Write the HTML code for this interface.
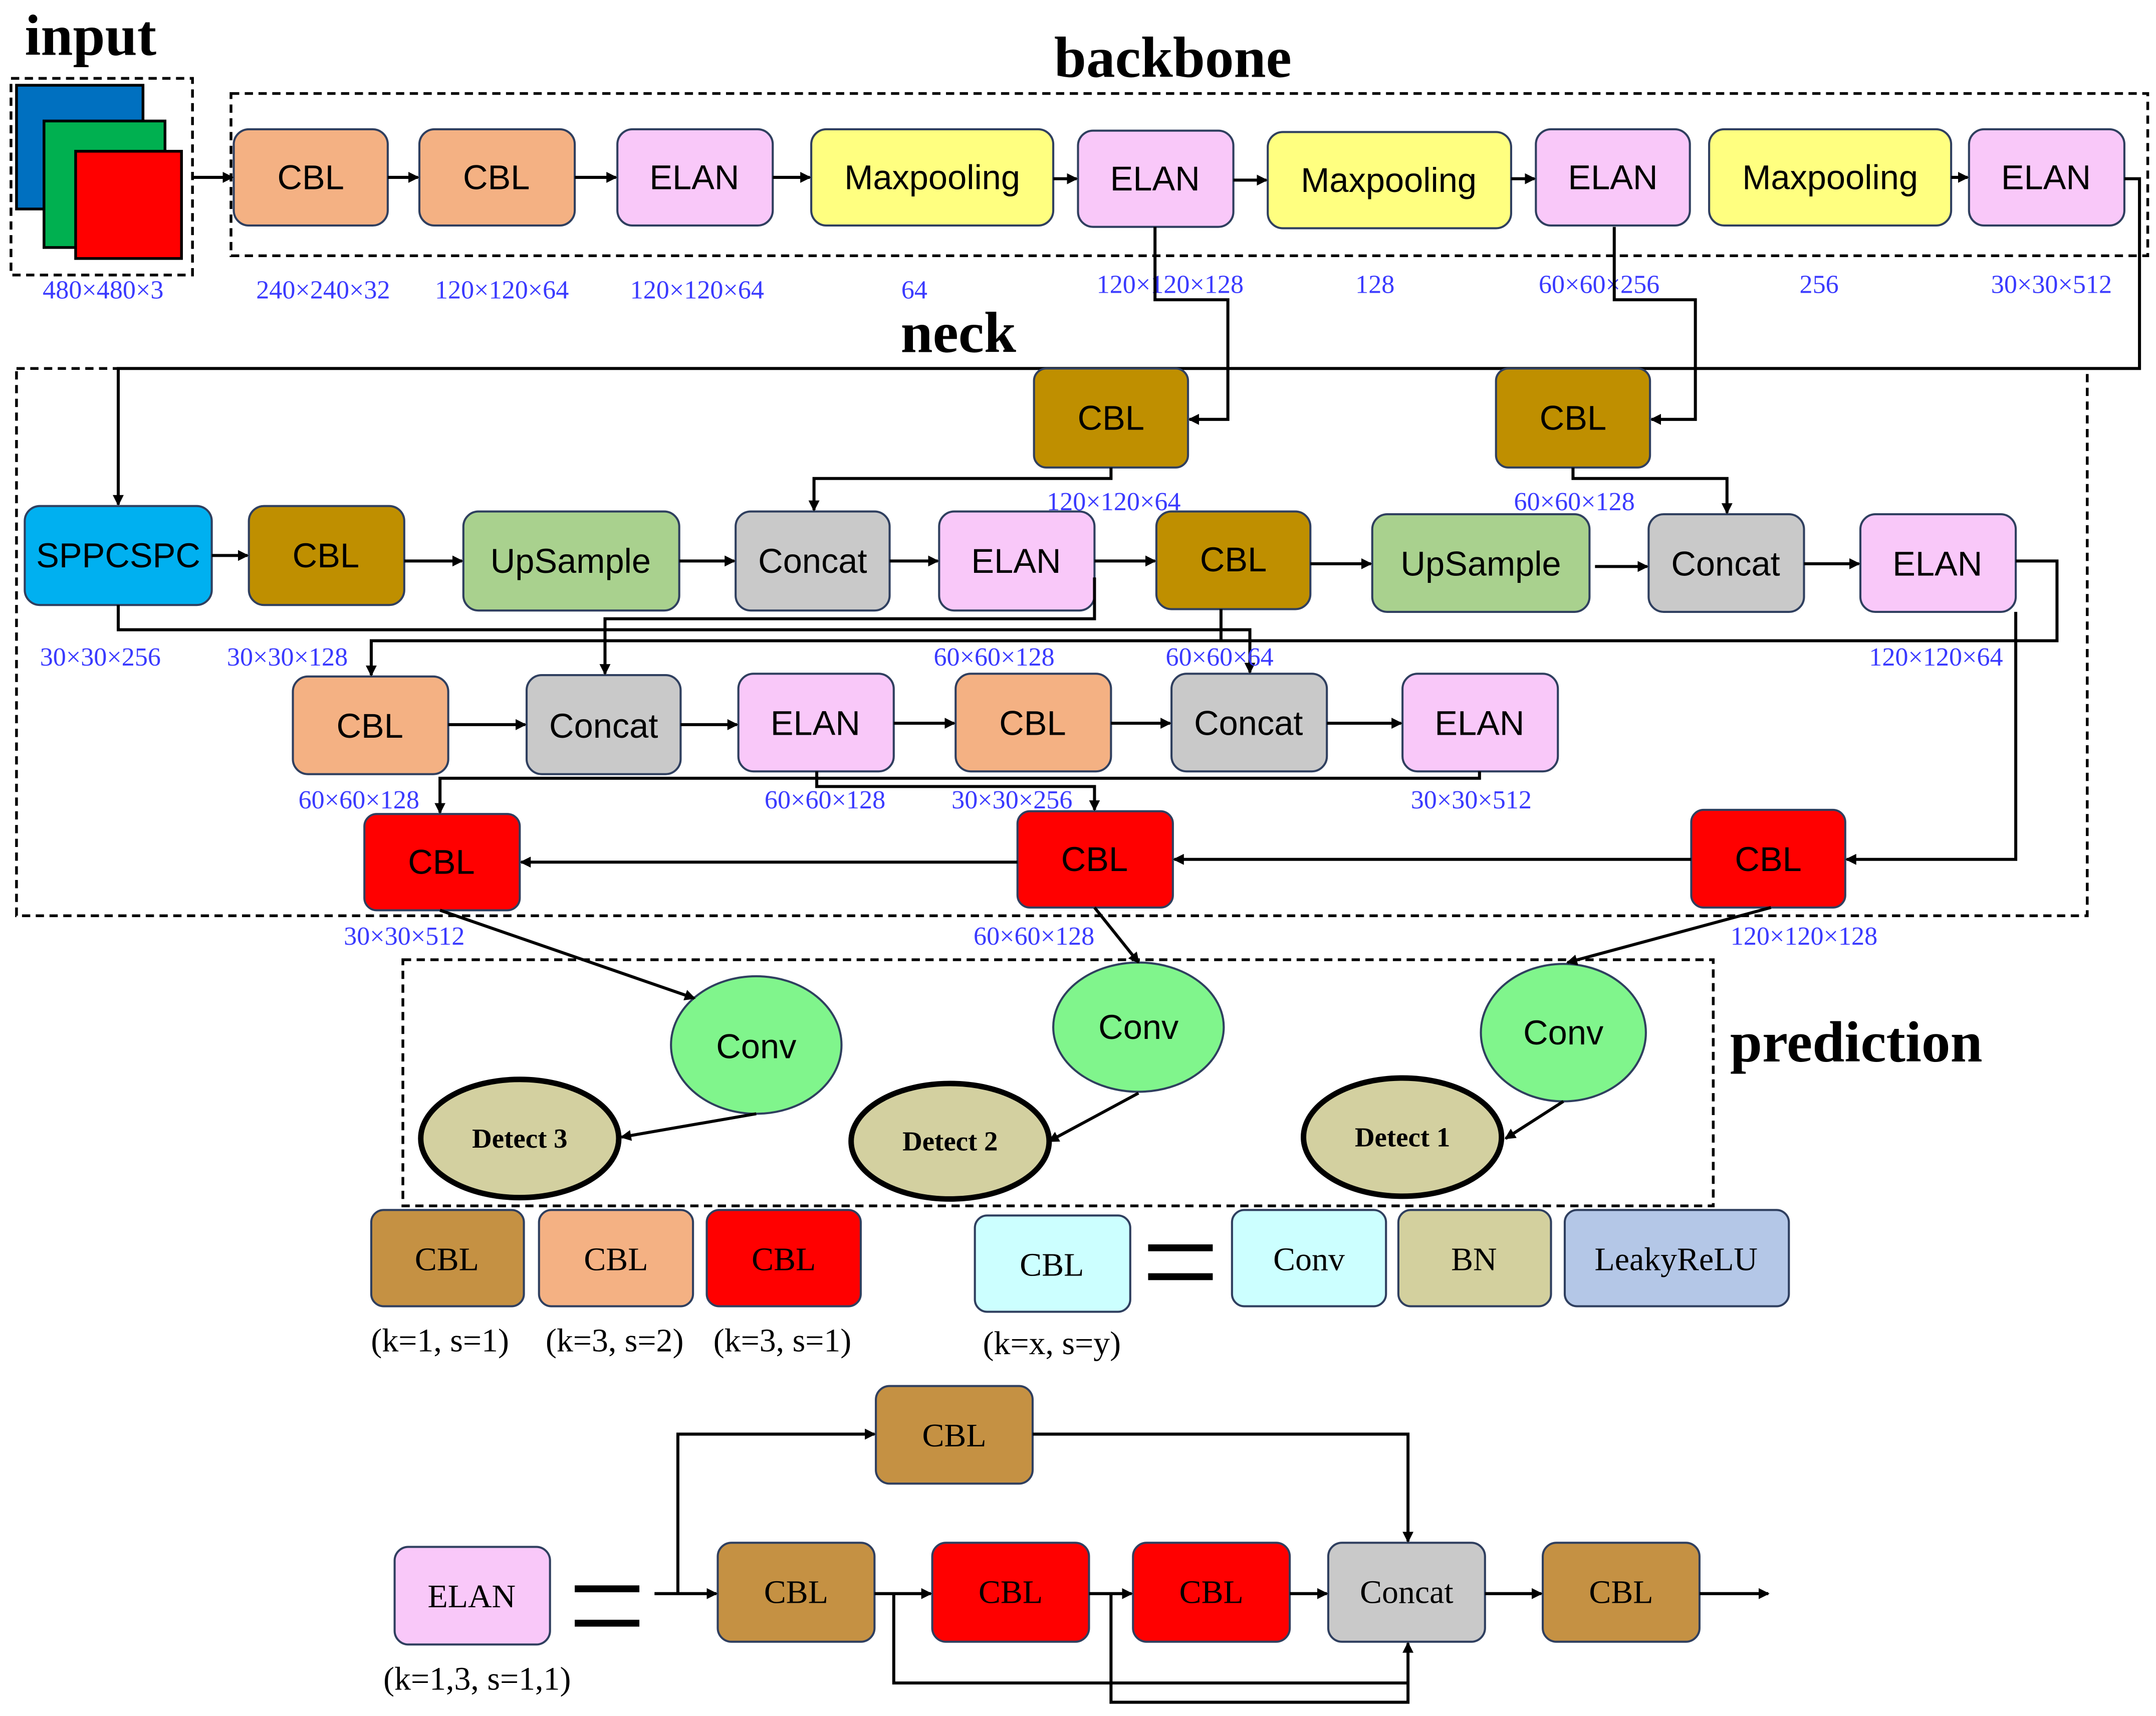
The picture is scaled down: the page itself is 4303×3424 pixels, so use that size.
<!DOCTYPE html>
<html><head><meta charset="utf-8"><style>
html,body{margin:0;padding:0;background:#fff}
svg{display:block}
.n{font-family:"Liberation Sans",sans-serif;font-size:25px;text-anchor:middle;dominant-baseline:central;fill:#000}
.s{font-family:"Liberation Serif",serif;font-size:24px;text-anchor:middle;dominant-baseline:central;fill:#000}
.l{font-family:"Liberation Serif",serif;font-size:19px;text-anchor:middle;fill:#3a3aff}
.t{font-family:"Liberation Serif",serif;font-weight:bold;font-size:42px;fill:#000}
.b rect,rect.b{stroke:#2f3f5f;stroke-width:1.5}
.w{fill:none;stroke:#000;stroke-width:2.2}
.d{fill:none;stroke:#000;stroke-width:2;stroke-dasharray:6,4}
</style></head><body>
<svg width="4303" height="3424" viewBox="0 0 1568 1248" preserveAspectRatio="none" xmlns="http://www.w3.org/2000/svg">
<defs><marker id="a" markerWidth="8" markerHeight="8" refX="7" refY="4" orient="auto" markerUnits="userSpaceOnUse"><path d="M0,0 L8,4 L0,8 z" fill="#000"/></marker>
<marker id="A" markerWidth="12" markerHeight="12" refX="11" refY="6" orient="auto" markerUnits="userSpaceOnUse"><path d="M0,1 L12,6 L0,11 z" fill="#000"/></marker></defs>

<!-- titles -->
<text class="t" x="18" y="40">input</text>
<text class="t" x="853" y="56" text-anchor="middle">backbone</text>
<text class="t" x="697" y="256" text-anchor="middle">neck</text>
<text class="t" x="1350" y="772" text-anchor="middle">prediction</text>

<!-- input -->
<rect class="d" x="8" y="57" width="132" height="143"/>
<rect x="12" y="62" width="92" height="90" fill="#0070c0" stroke="#000" stroke-width="2"/>
<rect x="32" y="88" width="88" height="92" fill="#00b050" stroke="#000" stroke-width="2"/>
<rect x="55" y="110" width="77" height="78" fill="#ff0000" stroke="#000" stroke-width="2"/>

<!-- backbone -->
<rect class="d" x="168" y="68" width="1394" height="118"/>
<g class="b">
<rect x="170" y="94" width="112" height="70" rx="11" fill="#f4b183"/>
<rect x="305" y="94" width="113" height="70" rx="11" fill="#f4b183"/>
<rect x="449" y="94" width="113" height="70" rx="11" fill="#f9c8f9"/>
<rect x="590" y="94" width="176" height="70" rx="11" fill="#ffff80"/>
<rect x="784" y="95" width="113" height="70" rx="11" fill="#f9c8f9"/>
<rect x="922" y="96" width="177" height="70" rx="11" fill="#ffff80"/>
<rect x="1117" y="94" width="112" height="70" rx="11" fill="#f9c8f9"/>
<rect x="1243" y="94" width="176" height="70" rx="11" fill="#ffff80"/>
<rect x="1432" y="94" width="113" height="70" rx="11" fill="#f9c8f9"/>
</g>
<text class="n" x="226" y="129">CBL</text><text class="n" x="361" y="129">CBL</text>
<text class="n" x="505" y="129">ELAN</text><text class="n" x="678" y="129">Maxpooling</text>
<text class="n" x="840" y="130">ELAN</text><text class="n" x="1010" y="131">Maxpooling</text>
<text class="n" x="1173" y="129">ELAN</text><text class="n" x="1331" y="129">Maxpooling</text>
<text class="n" x="1488" y="129">ELAN</text>
<g class="w" marker-end="url(#a)">
<path d="M140,129 H169"/><path d="M282,129 H304"/><path d="M418,129 H448"/><path d="M562,129 H589"/>
<path d="M766,130 H783"/><path d="M897,131 H921"/><path d="M1099,130 H1116"/><path d="M1419,129 H1431"/>
</g>
<g class="l">
<text x="75" y="217">480×480×3</text><text x="235" y="217">240×240×32</text><text x="365" y="217">120×120×64</text>
<text x="507" y="217">120×120×64</text><text x="665" y="217">64</text><text x="851" y="213">120×120×128</text>
<text x="1000" y="213">128</text><text x="1163" y="213">60×60×256</text><text x="1323" y="213">256</text><text x="1492" y="213">30×30×512</text>
</g>

<!-- neck -->
<rect class="d" x="12" y="268" width="1506" height="398"/>
<path class="w" d="M1545,130 H1556 V268 H86 V367" marker-end="url(#a)"/>
<path class="w" d="M840,165 V218 H893 V305 H865" marker-end="url(#a)"/>
<path class="w" d="M1174,165 V218 H1233 V305 H1201" marker-end="url(#a)"/>
<g class="b">
<rect x="752" y="268" width="112" height="72" rx="9" fill="#bf8f00"/>
<rect x="1088" y="268" width="112" height="72" rx="9" fill="#bf8f00"/>
<rect x="18" y="368" width="136" height="72" rx="11" fill="#00b0f0"/>
<rect x="181" y="368" width="113" height="72" rx="11" fill="#bf8f00"/>
<rect x="337" y="372" width="157" height="72" rx="11" fill="#a9d18e"/>
<rect x="535" y="372" width="112" height="72" rx="11" fill="#c9c9c9"/>
<rect x="683" y="372" width="113" height="72" rx="11" fill="#f9c8f9"/>
<rect x="841" y="372" width="112" height="71" rx="11" fill="#bf8f00"/>
<rect x="998" y="374" width="158" height="71" rx="11" fill="#a9d18e"/>
<rect x="1199" y="374" width="113" height="71" rx="11" fill="#c9c9c9"/>
<rect x="1353" y="374" width="113" height="71" rx="11" fill="#f9c8f9"/>
<rect x="213" y="492" width="113" height="71" rx="11" fill="#f4b183"/>
<rect x="383" y="491" width="112" height="72" rx="11" fill="#c9c9c9"/>
<rect x="537" y="490" width="113" height="71" rx="11" fill="#f9c8f9"/>
<rect x="695" y="490" width="113" height="71" rx="11" fill="#f4b183"/>
<rect x="852" y="490" width="113" height="71" rx="11" fill="#c9c9c9"/>
<rect x="1020" y="490" width="113" height="71" rx="11" fill="#f9c8f9"/>
<rect x="265" y="592" width="113" height="70" rx="9" fill="#ff0000"/>
<rect x="740" y="590" width="113" height="70" rx="9" fill="#ff0000"/>
<rect x="1230" y="589" width="112" height="71" rx="9" fill="#ff0000"/>
</g>
<text class="n" x="808" y="304">CBL</text><text class="n" x="1144" y="304">CBL</text>
<text class="n" x="86" y="404">SPPCSPC</text><text class="n" x="237" y="404">CBL</text>
<text class="n" x="415" y="408">UpSample</text><text class="n" x="591" y="408">Concat</text>
<text class="n" x="739" y="408">ELAN</text><text class="n" x="897" y="407">CBL</text>
<text class="n" x="1077" y="410">UpSample</text><text class="n" x="1255" y="410">Concat</text>
<text class="n" x="1409" y="410">ELAN</text>
<text class="n" x="269" y="528">CBL</text><text class="n" x="439" y="528">Concat</text>
<text class="n" x="593" y="526">ELAN</text><text class="n" x="751" y="526">CBL</text>
<text class="n" x="908" y="526">Concat</text><text class="n" x="1076" y="526">ELAN</text>
<text class="n" x="321" y="627">CBL</text><text class="n" x="796" y="625">CBL</text><text class="n" x="1286" y="625">CBL</text>
<g class="w" marker-end="url(#a)">
<path d="M808,340 V348 H592 V371"/><path d="M1144,340 V348 H1256 V373"/>
<path d="M154,404 H180"/><path d="M294,408 H336"/><path d="M494,408 H534"/><path d="M647,408 H682"/>
<path d="M796,408 H840"/><path d="M953,410 H997"/><path d="M1160,412 H1198"/><path d="M1312,410 H1352"/>
<path d="M86,440 V458 H909 V489"/><path d="M796,420 V450 H440 V490"/>
<path d="M1466,408 H1496 V466 H270 V491"/>
<path d="M326,527 H382"/><path d="M495,527 H536"/><path d="M650,526 H694"/><path d="M808,526 H851"/><path d="M965,526 H1019"/>
<path d="M1076,561 V566 H320 V591"/><path d="M594,561 V572 H796 V589"/>
<path d="M1466,445 V625 H1343"/><path d="M1230,625 H854"/><path d="M740,627 H379"/>
</g>
<path class="w" d="M888,443 V466"/>
<g class="l">
<text x="810" y="371">120×120×64</text><text x="1145" y="371">60×60×128</text>
<text x="73" y="484">30×30×256</text><text x="209" y="484">30×30×128</text><text x="723" y="484">60×60×128</text>
<text x="887" y="484">60×60×64</text><text x="1408" y="484">120×120×64</text>
<text x="261" y="588">60×60×128</text><text x="600" y="588">60×60×128</text><text x="736" y="588">30×30×256</text>
<text x="1070" y="588">30×30×512</text>
<text x="294" y="687">30×30×512</text><text x="752" y="687">60×60×128</text><text x="1312" y="687">120×120×128</text>
</g>

<!-- prediction -->
<rect class="d" x="293" y="698" width="953" height="179"/>
<g stroke="#2f3f5f" stroke-width="1.5" fill="#80f58c">
<ellipse cx="550" cy="760" rx="62" ry="50"/><ellipse cx="828" cy="747" rx="62" ry="47"/><ellipse cx="1137" cy="751" rx="60" ry="50"/>
</g>
<g stroke="#000" stroke-width="4" fill="#d3d0a0">
<ellipse cx="378" cy="828" rx="72" ry="43"/><ellipse cx="691" cy="830" rx="72" ry="42"/><ellipse cx="1020" cy="827" rx="72" ry="43"/>
</g>
<text class="n" x="550" y="761">Conv</text><text class="n" x="828" y="747">Conv</text><text class="n" x="1137" y="751">Conv</text>
<g class="s" font-weight="bold" style="font-size:20px">
<text x="378" y="828">Detect 3</text><text x="691" y="830">Detect 2</text><text x="1020" y="827">Detect 1</text>
</g>
<g class="w" marker-end="url(#a)">
<path d="M320,662 L505,726"/><path d="M796,660 L828,700"/><path d="M1288,660 L1140,700"/>
<path d="M550,810 L452,827"/><path d="M828,795 L763,830"/><path d="M1137,801 L1095,828"/>
</g>

<!-- legend -->
<g class="b">
<rect x="270" y="880" width="111" height="70" rx="9" fill="#c59143"/>
<rect x="392" y="880" width="112" height="70" rx="9" fill="#f4b183"/>
<rect x="514" y="880" width="112" height="70" rx="9" fill="#ff0000"/>
<rect x="709" y="884" width="113" height="70" rx="9" fill="#ccffff"/>
<rect x="896" y="880" width="112" height="70" rx="9" fill="#ccffff"/>
<rect x="1017" y="880" width="111" height="70" rx="9" fill="#d3d09e"/>
<rect x="1138" y="880" width="163" height="70" rx="9" fill="#b4c7e7"/>
</g>
<text class="s" x="325" y="916">CBL</text><text class="s" x="448" y="916">CBL</text><text class="s" x="570" y="916">CBL</text>
<text class="s" x="765" y="920">CBL</text><text class="s" x="952" y="916">Conv</text><text class="s" x="1072" y="916">BN</text>
<text class="s" x="1219" y="916">LeakyReLU</text>
<text class="s" x="320" y="975">(k=1, s=1)</text><text class="s" x="447" y="975">(k=3, s=2)</text><text class="s" x="569" y="975">(k=3, s=1)</text>
<text class="s" x="765" y="977">(k=x, s=y)</text>
<rect x="835" y="905" width="47" height="5" fill="#000"/><rect x="835" y="926" width="47" height="5" fill="#000"/>

<!-- ELAN detail -->
<g class="b">
<rect x="287" y="1125" width="113" height="71" rx="10" fill="#f9c8f9"/>
<rect x="637" y="1008" width="114" height="71" rx="10" fill="#c59143"/>
<rect x="522" y="1122" width="114" height="72" rx="10" fill="#c59143"/>
<rect x="678" y="1122" width="114" height="72" rx="10" fill="#ff0000"/>
<rect x="824" y="1122" width="114" height="72" rx="10" fill="#ff0000"/>
<rect x="966" y="1122" width="114" height="72" rx="10" fill="#c9c9c9"/>
<rect x="1122" y="1122" width="114" height="72" rx="10" fill="#c59143"/>
</g>
<text class="s" x="343" y="1161">ELAN</text><text class="s" x="694" y="1044">CBL</text>
<text class="s" x="579" y="1158">CBL</text><text class="s" x="735" y="1158">CBL</text><text class="s" x="881" y="1158">CBL</text>
<text class="s" x="1023" y="1158">Concat</text><text class="s" x="1179" y="1158">CBL</text>
<text class="s" x="347" y="1221">(k=1,3, s=1,1)</text>
<rect x="418" y="1153" width="47" height="5" fill="#000"/><rect x="418" y="1178" width="47" height="5" fill="#000"/>
<g class="w" marker-end="url(#a)">
<path d="M476,1159 H521"/><path d="M493,1159 V1043 H636"/><path d="M751,1043 H1024 V1121"/>
<path d="M636,1159 H677"/><path d="M792,1159 H823"/><path d="M938,1159 H965"/><path d="M1080,1159 H1121"/>
<path d="M1236,1159 H1286"/>
<path d="M808,1159 V1238 H1024 V1195"/>
</g>
<path class="w" d="M650,1159 V1224 H1024"/>
</svg>
</body></html>
